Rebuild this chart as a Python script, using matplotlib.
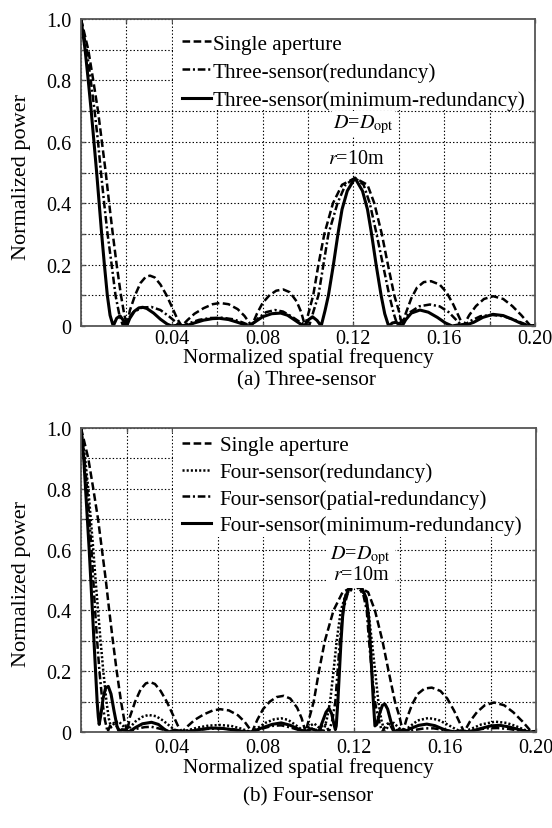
import numpy as np
import matplotlib.pyplot as plt
from matplotlib.patches import Rectangle

plt.rcParams['font.family'] = ['Liberation Serif', 'DejaVu Serif']
plt.rcParams['mathtext.fontset'] = 'stix'
plt.rcParams['lines.scale_dashes'] = False

# 单孔径 (both panels)
f_single = [0, 0.0032, 0.0054, 0.0075, 0.0092, 0.0109, 0.0124, 0.0140, 0.0157, 0.0176, 0.0190, 0.0203,
            0.0215, 0.0238, 0.0262, 0.0285, 0.0304, 0.0325, 0.0350, 0.0377, 0.0405, 0.0425, 0.0444,
            0.047, 0.050, 0.054, 0.058, 0.0612, 0.065, 0.069, 0.072, 0.0752,
            0.0775, 0.080, 0.083, 0.086, 0.0891, 0.092, 0.095, 0.097, 0.0987,
            0.1005, 0.1023, 0.1046, 0.1072, 0.1110, 0.1150, 0.1207, 0.1262, 0.1292, 0.1325, 0.1352, 0.1380, 0.1400, 0.1415,
            0.143, 0.1455, 0.148, 0.151, 0.1542, 0.158, 0.161, 0.164, 0.1665, 0.1684,
            0.171, 0.174, 0.1775, 0.1816, 0.186, 0.190, 0.194, 0.1975, 0.1985, 0.2]
p_single = [1.0, 0.9, 0.8, 0.7, 0.6, 0.5, 0.4, 0.3, 0.2, 0.1, 0.04, 0.0,
            0.05, 0.1, 0.14, 0.16, 0.164, 0.158, 0.135, 0.1, 0.055, 0.022, 0.0,
            0.02, 0.04, 0.058, 0.071, 0.075, 0.071, 0.055, 0.033, 0.0,
            0.04, 0.075, 0.1, 0.115, 0.119, 0.11, 0.08, 0.045, 0.0,
            0.05, 0.1, 0.2, 0.3, 0.4, 0.46, 0.482, 0.46, 0.4, 0.3, 0.2, 0.1, 0.05, 0.0,
            0.04, 0.09, 0.125, 0.143, 0.146, 0.135, 0.11, 0.07, 0.03, 0.0,
            0.035, 0.065, 0.088, 0.097, 0.088, 0.065, 0.035, 0.005, 0.0, 0.004]

# 三元 冗余
f_three_red = [0, 0.0025, 0.0043, 0.0060, 0.0075, 0.0088, 0.0102, 0.0117, 0.0135, 0.0152, 0.0168, 0.0185,
               0.0205, 0.023, 0.027, 0.031, 0.035, 0.039, 0.0425, 0.0445,
               0.048, 0.052, 0.057, 0.062, 0.067, 0.071, 0.075,
               0.078, 0.0815, 0.0855, 0.089, 0.093, 0.097, 0.1005,
               0.1025, 0.1046, 0.1068, 0.109, 0.1130, 0.1165, 0.1207, 0.1245, 0.1272, 0.1302, 0.1330, 0.1358, 0.1378, 0.1395,
               0.142, 0.145, 0.149, 0.1537, 0.158, 0.162, 0.165, 0.168,
               0.172, 0.176, 0.181, 0.186, 0.191, 0.195, 0.1985, 0.2]
p_three_red = [1.0, 0.9, 0.8, 0.7, 0.6, 0.5, 0.4, 0.3, 0.2, 0.1, 0.04, 0.0,
               0.02, 0.045, 0.06, 0.062, 0.052, 0.03, 0.008, 0.0,
               0.01, 0.02, 0.026, 0.027, 0.022, 0.012, 0.0,
               0.025, 0.045, 0.052, 0.047, 0.03, 0.01, 0.0,
               0.05, 0.1, 0.2, 0.3, 0.4, 0.46, 0.482, 0.46, 0.4, 0.3, 0.2, 0.1, 0.04, 0.0,
               0.02, 0.045, 0.064, 0.07, 0.064, 0.045, 0.022, 0.0,
               0.018, 0.032, 0.036, 0.032, 0.02, 0.008, 0.0, 0.002]

# 三元 最小冗余
f_three_min = [0, 0.0018, 0.0032, 0.0045, 0.0057, 0.0069, 0.0080, 0.0091, 0.0103, 0.0116, 0.0128, 0.0142,
               0.0157, 0.0172, 0.0187, 0.0201,
               0.0215, 0.0235, 0.0255, 0.0272, 0.029, 0.032, 0.035, 0.038, 0.040, 0.043, 0.046,
               0.050, 0.054, 0.058, 0.061, 0.065, 0.069, 0.0737,
               0.077, 0.080, 0.084, 0.088, 0.091, 0.094, 0.097, 0.0985,
               0.1002, 0.1020, 0.1040, 0.1058,
               0.1075, 0.1090, 0.1112, 0.1132, 0.1150, 0.1173, 0.1207, 0.1240, 0.1262, 0.1280, 0.1300, 0.1322, 0.1338, 0.1355,
               0.1372, 0.1388, 0.1405, 0.1415, 0.143, 0.1455, 0.1493, 0.153, 0.157, 0.1605, 0.1635,
               0.1665, 0.170, 0.173, 0.177, 0.1815, 0.186, 0.190, 0.194, 0.197, 0.2]
p_three_min = [1.0, 0.9, 0.8, 0.7, 0.6, 0.5, 0.4, 0.3, 0.2, 0.1, 0.035, 0.0,
               0.025, 0.033, 0.018, 0.0,
               0.025, 0.048, 0.059, 0.061, 0.057, 0.042, 0.022, 0.006, 0.0, 0.003, 0.0,
               0.01, 0.019, 0.024, 0.025, 0.021, 0.012, 0.0,
               0.015, 0.03, 0.04, 0.042, 0.035, 0.02, 0.005, 0.0,
               0.02, 0.03, 0.018, 0.0,
               0.05, 0.1, 0.2, 0.3, 0.38, 0.44, 0.482, 0.44, 0.38, 0.3, 0.2, 0.1, 0.04, 0.0,
               0.01, 0.012, 0.005, 0.0, 0.02, 0.042, 0.052, 0.045, 0.028, 0.01, 0.0,
               0.004, 0.004, 0.012, 0.028, 0.038, 0.034, 0.022, 0.008, 0.0, 0.002]

# 四元 冗余
f_four_red = [0, 0.0018, 0.0032, 0.0043, 0.0054, 0.0064, 0.0075, 0.0086, 0.0098, 0.0112, 0.0122, 0.0132,
              0.0148, 0.0165, 0.0185, 0.0203,
              0.0215, 0.024, 0.027, 0.0296, 0.033, 0.036, 0.039, 0.0415, 0.043,
              0.047, 0.051, 0.056, 0.061, 0.066, 0.070, 0.073, 0.0752,
              0.0775, 0.081, 0.085, 0.088, 0.091, 0.094, 0.097, 0.0987,
              0.1005, 0.1025, 0.1045, 0.1065,
              0.1080, 0.1095, 0.1110, 0.1124, 0.1142, 0.1165, 0.1207, 0.1245, 0.1263, 0.1278, 0.1293, 0.1307, 0.1320, 0.1335,
              0.1355, 0.1375, 0.1395, 0.1415, 0.1445, 0.148, 0.1527, 0.157, 0.161, 0.165, 0.168,
              0.172, 0.176, 0.182, 0.187, 0.191, 0.195, 0.1985, 0.2]
p_four_red = [1.0, 0.9, 0.8, 0.7, 0.6, 0.5, 0.4, 0.3, 0.2, 0.1, 0.045, 0.015,
              0.03, 0.035, 0.02, 0.0,
              0.015, 0.035, 0.05, 0.056, 0.052, 0.038, 0.02, 0.005, 0.0,
              0.006, 0.014, 0.021, 0.023, 0.02, 0.012, 0.004, 0.0,
              0.012, 0.03, 0.042, 0.045, 0.04, 0.025, 0.008, 0.0,
              0.02, 0.028, 0.015, 0.0,
              0.04, 0.1, 0.2, 0.3, 0.4, 0.455, 0.482, 0.455, 0.4, 0.3, 0.2, 0.1, 0.04, 0.0,
              0.025, 0.03, 0.015, 0.0, 0.018, 0.038, 0.046, 0.04, 0.025, 0.008, 0.0,
              0.012, 0.025, 0.034, 0.03, 0.02, 0.007, 0.0, 0.003]

# 四元 部分冗余
f_four_part = [0, 0.0015, 0.0027, 0.0037, 0.0046, 0.0054, 0.0062, 0.0071, 0.0081, 0.0094, 0.0105, 0.0117,
               0.0130, 0.0145, 0.016, 0.0175, 0.019, 0.0203,
               0.024, 0.028, 0.031, 0.034, 0.038, 0.041,
               0.048, 0.055, 0.061, 0.067, 0.072, 0.0752,
               0.079, 0.084, 0.088, 0.092, 0.096, 0.0987,
               0.1005, 0.1025, 0.1045, 0.106, 0.1072, 0.1082,
               0.1090, 0.1105, 0.1118, 0.1128, 0.1138, 0.1152, 0.1172, 0.1207, 0.1240, 0.1256, 0.1266, 0.1278, 0.1292, 0.1308, 0.1324,
               0.1335, 0.1348, 0.136, 0.1375, 0.14, 0.1415,
               0.146, 0.151, 0.155, 0.16, 0.165, 0.1684,
               0.173, 0.178, 0.183, 0.188, 0.193, 0.1985, 0.2]
p_four_part = [1.0, 0.9, 0.8, 0.7, 0.6, 0.5, 0.4, 0.3, 0.2, 0.1, 0.04, 0.0,
               0.025, 0.03, 0.015, 0.0, 0.008, 0.0,
               0.01, 0.016, 0.017, 0.012, 0.004, 0.0,
               0.004, 0.01, 0.012, 0.009, 0.003, 0.0,
               0.01, 0.02, 0.022, 0.015, 0.006, 0.0,
               0.01, 0.012, 0.0, 0.022, 0.028, 0.015,
               0.0, 0.04, 0.1, 0.2, 0.3, 0.4, 0.455, 0.482, 0.455, 0.4, 0.3, 0.2, 0.1, 0.04, 0.0,
               0.015, 0.028, 0.022, 0.0, 0.008, 0.0,
               0.006, 0.012, 0.012, 0.006, 0.001, 0.0,
               0.006, 0.012, 0.013, 0.01, 0.004, 0.0, 0.001]

# 四元 最小冗余
f_four_min = [0, 0.0012, 0.0020, 0.0028, 0.0036, 0.0043, 0.0050, 0.0057, 0.0064, 0.0071, 0.0076, 0.0080,
              0.0088, 0.0097, 0.0108, 0.0120, 0.0132, 0.0145, 0.0158, 0.0168,
              0.018, 0.0195, 0.021, 0.024, 0.027, 0.031, 0.034, 0.0365, 0.0385,
              0.041, 0.044, 0.047, 0.052, 0.057, 0.062, 0.067, 0.071, 0.075,
              0.079, 0.084, 0.088, 0.092, 0.096, 0.099, 0.101, 0.1025, 0.1045,
              0.1062, 0.1077, 0.1090, 0.1102, 0.1112, 0.1118,
              0.1122, 0.1129, 0.1136, 0.1143, 0.1150, 0.1160, 0.1180, 0.1207, 0.1234, 0.1254, 0.1264, 0.1271, 0.1278, 0.1285, 0.1292,
              0.1300, 0.1312, 0.1325, 0.1336, 0.1348, 0.1362, 0.1378,
              0.139, 0.1405, 0.142, 0.145, 0.1485, 0.152, 0.1555, 0.159, 0.163,
              0.167, 0.1705, 0.175, 0.180, 0.184, 0.188, 0.193, 0.197, 0.2]
p_four_min = [1.0, 0.9, 0.8, 0.7, 0.6, 0.5, 0.4, 0.3, 0.2, 0.1, 0.05, 0.025,
              0.06, 0.11, 0.145, 0.15, 0.125, 0.07, 0.02, 0.0,
              0.008, 0.005, 0.0, 0.015, 0.027, 0.032, 0.025, 0.01, 0.0,
              0.006, 0.003, 0.0, 0.008, 0.013, 0.012, 0.007, 0.002, 0.0,
              0.012, 0.025, 0.03, 0.022, 0.008, 0.0, 0.01, 0.008, 0.0,
              0.035, 0.065, 0.078, 0.06, 0.025, 0.008,
              0.02, 0.1, 0.2, 0.3, 0.38, 0.44, 0.475, 0.482, 0.475, 0.44, 0.38, 0.3, 0.2, 0.1, 0.02,
              0.025, 0.06, 0.088, 0.092, 0.075, 0.035, 0.0,
              0.006, 0.004, 0.0, 0.012, 0.022, 0.026, 0.021, 0.01, 0.0,
              0.004, 0.0, 0.01, 0.02, 0.022, 0.017, 0.007, 0.0, 0.002]

xticks = np.arange(0, 0.2001, 0.02)
xticklabels = ['', '', '0.04', '', '0.08', '', '0.12', '', '0.16', '', '0.20']
yticks = np.arange(0, 1.001, 0.1)
yticklabels = ['0', '', '0.2', '', '0.4', '', '0.6', '', '0.8', '', '1.0']

FS = 14.5
LFS = 15.2
DASH = (5.5, 2.5)
DASHDOT = (5.5, 2, 1.5, 2)
DOT = (1.5, 1.5)
LW = 1.8

fig = plt.figure(figsize=(5.52, 8.29), dpi=100)
ax1 = fig.add_axes([81/552, 1-327/829, 454/552, 307/829])
ax2 = fig.add_axes([81/552, 1-733/829, 455/552, 304/829])


def style(ax, xlab_y, xpad, mask_y):
    ax.set_xlim(0, 0.2)
    ax.set_ylim(0, 1.0)
    ax.set_xticks(xticks)
    ax.set_xticklabels(xticklabels, fontsize=FS)
    ax.set_yticks(yticks)
    ax.set_yticklabels(yticklabels, fontsize=FS)
    ax.tick_params(direction='in', length=3, width=1, color='#555555',
                   top=True, right=True)
    ax.tick_params(axis='y', pad=7)
    ax.tick_params(axis='x', pad=xpad)
    ax.grid(True, color='k', linestyle=(0, (1, 1.5)), linewidth=0.8)
    ax.set_axisbelow(True)
    for s in ax.spines.values():
        s.set_color('#555555')
        s.set_linewidth(1.3)
    ax.set_xlabel('Normalized spatial frequency', fontsize=LFS, va='center')
    ax.xaxis.set_label_coords(0.5, xlab_y)
    ax.set_ylabel('Normalized power', fontsize=16, va='center')
    ax.yaxis.set_label_coords(-0.13, 0.49)
    # 图例的白底
    ax.add_patch(Rectangle((0.203, mask_y), 1 - 0.203, 1 - mask_y, transform=ax.transAxes,
                           fc='white', ec='none', zorder=1))


# (a) 三元
ax1.plot(f_single, p_single, color='k', lw=LW, dashes=DASH, label='Single aperture')
ax1.plot(f_three_red, p_three_red, color='k', lw=LW, dashes=DASHDOT, label='Three-sensor(redundancy)')
ax1.plot(f_three_min, p_three_min, color='k', lw=2.2, label='Three-sensor(minimum-redundancy)')
style(ax1, (327-358)/307, 2.5, 0.705)
ax1.legend(loc='upper left', bbox_to_anchor=(0.189, 1.0), borderaxespad=0, fontsize=LFS,
           handlelength=1.4, handletextpad=0.08, labelspacing=0.4, borderpad=0.7,
           frameon=False)
ax1.text(0.1245, 0.66, r'$D$=$D_{\rm opt}$', fontsize=FS, ha='center', va='center',
         bbox=dict(fc='white', ec='none', pad=1))
ax1.text(0.1215, 0.544, r'$r$=10m', fontsize=FS, ha='center', va='center',
         bbox=dict(fc='white', ec='none', pad=1))
fig.text(306/552, 1-381/829, '(a) Three-sensor', fontsize=LFS, ha='center', va='center')

# (b) 四元
ax2.plot(f_single, p_single, color='k', lw=LW, dashes=DASH, label='Single aperture')
ax2.plot(f_four_red, p_four_red, color='k', lw=LW, dashes=DOT, label='Four-sensor(redundancy)')
ax2.plot(f_four_part, p_four_part, color='k', lw=LW, dashes=DASHDOT, label='Four-sensor(patial-redundancy)')
ax2.plot(f_four_min, p_four_min, color='k', lw=2.2, label='Four-sensor(minimum-redundancy)')
style(ax2, (733-768)/304, 4, 0.64)
ax2.legend(loc='upper left', bbox_to_anchor=(0.205, 1.0), borderaxespad=0, fontsize=LFS,
           handlelength=1.4, handletextpad=0.4, labelspacing=0.33, borderpad=0.35,
           frameon=False)
ax2.text(0.123, 0.555, r'$D$=$D_{\rm opt}$' + '\n' + r'$r$=10m', fontsize=FS, ha='center', va='center',
         linespacing=0.9, bbox=dict(fc='white', ec='none', pad=3))
fig.text(308/552, 1-797/829, '(b) Four-sensor', fontsize=LFS, ha='center', va='center')

fig.savefig('out.png', dpi=100)
